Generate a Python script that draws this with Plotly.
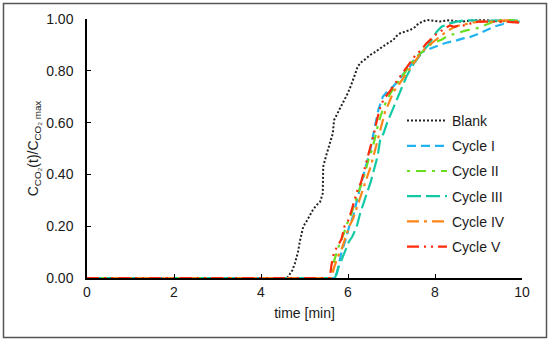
import plotly.graph_objects as go

blank_t = [0, 4.6, 4.65, 4.72, 4.78, 4.85, 4.9, 4.97, 5.05, 5.13, 5.2, 5.28, 5.36, 5.42, 5.43, 5.49, 5.55, 5.59, 5.65, 5.68, 5.78, 5.85, 5.93, 6.0, 6.06, 6.12, 6.17, 6.22, 6.28, 6.4, 6.5, 6.6, 6.74, 6.9, 7.04, 7.12, 7.2, 7.3, 7.43, 7.55, 7.62, 7.72, 7.81, 7.9, 8.11, 8.3, 8.6, 8.9, 9.2, 9.5, 9.8]
blank_v = [0, 0, 0.012, 0.03, 0.057, 0.10, 0.147, 0.198, 0.22, 0.243, 0.265, 0.282, 0.295, 0.327, 0.43, 0.468, 0.50, 0.52, 0.558, 0.61, 0.642, 0.665, 0.687, 0.715, 0.74, 0.764, 0.79, 0.815, 0.83, 0.845, 0.86, 0.87, 0.887, 0.905, 0.919, 0.935, 0.945, 0.95, 0.958, 0.97, 0.983, 0.99, 0.996, 0.995, 0.99, 0.995, 0.99, 0.995, 0.995, 0.99, 0.995]

c1_t = [0, 5.72, 5.76, 5.85, 5.95, 6.03, 6.12, 6.2, 6.28, 6.36, 6.44, 6.52, 6.6, 6.7, 6.8, 6.9, 7.04, 7.15, 7.28, 7.4, 7.52, 7.66, 7.8, 7.95, 8.11, 8.3, 8.45, 8.65, 8.8, 8.96, 9.15, 9.35, 9.55, 9.7, 9.85, 10]
c1_v = [0, 0, 0.03, 0.1, 0.15, 0.2, 0.24, 0.3, 0.35, 0.4, 0.45, 0.5, 0.57, 0.65, 0.7, 0.72, 0.74, 0.76, 0.79, 0.81, 0.84, 0.868, 0.88, 0.89, 0.9, 0.91, 0.915, 0.925, 0.93, 0.94, 0.955, 0.97, 0.98, 0.99, 0.995, 0.99]

c2_t = [0, 5.6, 5.65, 5.72, 5.8, 5.9, 5.98, 6.06, 6.14, 6.22, 6.3, 6.38, 6.46, 6.54, 6.62, 6.7, 6.8, 6.9, 7.0, 7.12, 7.25, 7.38, 7.5, 7.62, 7.75, 7.88, 8.0, 8.15, 8.3, 8.5, 8.7, 8.96, 9.2, 9.5, 9.8, 10]
c2_v = [0, 0, 0.05, 0.09, 0.13, 0.17, 0.21, 0.24, 0.28, 0.32, 0.36, 0.4, 0.45, 0.49, 0.54, 0.6, 0.65, 0.69, 0.72, 0.75, 0.78, 0.81, 0.84, 0.86, 0.88, 0.9, 0.91, 0.92, 0.935, 0.945, 0.955, 0.964, 0.98, 1.0, 0.995, 0.99]

c3_t = [0, 5.7, 5.78, 5.85, 5.93, 6.02, 6.1, 6.2, 6.28, 6.36, 6.45, 6.52, 6.6, 6.68, 6.74, 6.82, 6.9, 6.97, 7.05, 7.15, 7.25, 7.35, 7.48, 7.6, 7.72, 7.85, 7.95, 8.04, 8.15, 8.34, 8.5, 8.7, 8.9, 9.1, 9.4, 9.7, 10]
c3_v = [0, 0, 0.04, 0.07, 0.10, 0.14, 0.16, 0.198, 0.25, 0.29, 0.33, 0.37, 0.42, 0.47, 0.533, 0.56, 0.6, 0.625, 0.66, 0.7, 0.74, 0.78, 0.82, 0.85, 0.875, 0.9, 0.925, 0.951, 0.97, 0.983, 0.99, 0.995, 0.995, 0.99, 0.995, 0.99, 0.99]

c4_t = [0, 5.62, 5.68, 5.76, 5.85, 5.95, 6.03, 6.12, 6.2, 6.28, 6.36, 6.44, 6.52, 6.6, 6.68, 6.76, 6.85, 6.95, 7.05, 7.18, 7.3, 7.42, 7.55, 7.68, 7.8, 7.95, 8.1, 8.25, 8.4, 8.55, 8.7, 8.85, 9.0, 9.3, 9.6, 10]
c4_v = [0, 0, 0.04, 0.08, 0.11, 0.16, 0.2, 0.23, 0.27, 0.31, 0.35, 0.39, 0.43, 0.48, 0.53, 0.59, 0.64, 0.68, 0.72, 0.75, 0.78, 0.81, 0.84, 0.87, 0.89, 0.91, 0.93, 0.95, 0.965, 0.975, 0.98, 0.985, 0.99, 0.99, 0.995, 0.99]

c5_t = [0, 5.58, 5.62, 5.68, 5.75, 5.85, 5.92, 6.0, 6.08, 6.15, 6.22, 6.3, 6.38, 6.45, 6.52, 6.6, 6.68, 6.76, 6.86, 6.96, 7.08, 7.2, 7.3, 7.42, 7.55, 7.68, 7.8, 7.92, 8.05, 8.2, 8.34, 8.45, 8.55, 8.7, 8.85, 9.0, 9.3, 9.6, 10]
c5_v = [0, 0, 0.05, 0.1, 0.12, 0.15, 0.2, 0.22, 0.26, 0.3, 0.34, 0.37, 0.42, 0.46, 0.5, 0.56, 0.62, 0.67, 0.70, 0.72, 0.75, 0.78, 0.80, 0.83, 0.86, 0.88, 0.905, 0.925, 0.945, 0.96, 0.975, 0.97, 0.975, 0.975, 0.985, 0.99, 0.99, 0.99, 0.985]

names = ["Blank", "Cycle I", "Cycle II", "Cycle III", "Cycle IV", "Cycle V"]
xs = [blank_t, c1_t, c2_t, c3_t, c4_t, c5_t]
ys = [blank_v, c1_v, c2_v, c3_v, c4_v, c5_v]
colors = ["#222222", "#1FB4F0", "#6ADF22", "#12C9A6", "#FF8518", "#FF2B0A"]
dashes = ["2px,2px", "9px,5px", "3px,6px,10px,6px", "14px,5px", "12px,5px,3px,5px", "12px,5px,2px,5px,2px,5px"]
widths = [2, 2.2, 2.2, 2.2, 2.2, 2.2]

fig = go.Figure()
for i in range(6):
    fig.add_trace(go.Scatter(
        x=xs[i], y=ys[i], mode="lines", name=names[i],
        line=dict(color=colors[i], width=widths[i], dash=dashes[i]),
        legendgroup=names[i], legendrank=i + 1,
    ))

L, R, T, B = 87, 522, 19, 278
W, H = 550, 342
pw, ph = R - L, B - T

def px(xpix):
    return (xpix - L) / pw

def py(ypix):
    return (B - ypix) / ph

fig.update_layout(
    width=W, height=H,
    margin=dict(l=L, r=W - R, t=T, b=H - B, autoexpand=False),
    paper_bgcolor="white", plot_bgcolor="white",
    font=dict(family="Liberation Sans, Arial, sans-serif", size=14, color="#1a1a1a"),
    showlegend=True,
    legend=dict(
        x=px(402), y=py(105), xanchor="left", yanchor="top",
        bgcolor="rgba(0,0,0,0)", font=dict(size=14),
        tracegroupgap=4, itemwidth=40,
    ),
    shapes=[dict(
        type="rect", xref="paper", yref="paper",
        x0=px(3.5), x1=px(546.5), y0=py(337.5), y1=py(3.5),
        line=dict(color="#555555", width=1.5), layer="below",
    )],
)
fig.update_xaxes(
    range=[0, 10], tickvals=[0, 2, 4, 6, 8, 10], ticktext=["0", "2", "4", "6", "8", "10"],
    showline=True, linecolor="black", linewidth=1.5,
    ticks="inside", ticklen=4, tickcolor="black", tickwidth=1.2,
    showgrid=False, zeroline=False,
    title=dict(text="time [min]", standoff=10, font=dict(size=14)),
)
fig.update_yaxes(
    range=[0, 1], tickvals=[0, 0.2, 0.4, 0.6, 0.8, 1.0],
    ticktext=["0.00", "0.20", "0.40", "0.60", "0.80", "1.00"],
    showline=True, linecolor="black", linewidth=1.5,
    ticks="inside", ticklen=4, tickcolor="black", tickwidth=1.2,
    showgrid=False, zeroline=False, ticklabelstandoff=9,
    title=dict(text="C<sub>CO₂</sub>(t)/C<sub>CO₂ max</sub>", standoff=4, font=dict(size=14)),
)

fig.write_html("out.html", config={"displayModeBar": False},
               post_script="document.body.style.margin='0';")
